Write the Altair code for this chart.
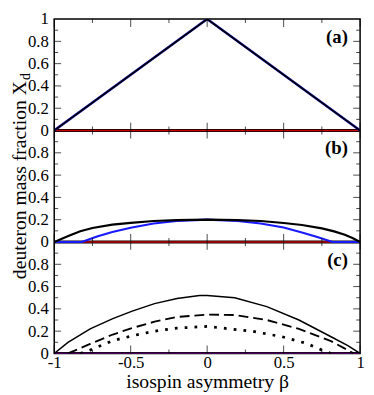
import altair as alt
import pandas as pd

# ---------------- data ----------------
# panel (a)
a_beta = [-1.0, 0.0, 1.0]
a_black = [0.0, 1.0, 0.0]

# panel (b)
b_beta = [-1.0, -0.95, -0.9, -0.83, -0.75, -0.62, -0.5, -0.35, -0.2, 0.0,
          0.2, 0.35, 0.5, 0.62, 0.75, 0.83, 0.9, 0.95, 1.0]
b_black = [0.0, 0.03, 0.058, 0.096, 0.126, 0.156, 0.172, 0.188, 0.196, 0.2,
           0.196, 0.188, 0.17, 0.152, 0.122, 0.095, 0.065, 0.035, 0.0]
b_blue_beta = [-1.0, -0.82, -0.72, -0.62, -0.5, -0.35, -0.2, 0.0,
               0.2, 0.35, 0.5, 0.62, 0.72, 0.82, 1.0]
b_blue = [0.0, 0.0, 0.049, 0.089, 0.128, 0.166, 0.188, 0.2,
          0.188, 0.166, 0.13, 0.085, 0.045, 0.0, 0.0]

# panel (c)
c_solid_beta = [-1.0, -0.91, -0.765, -0.617, -0.49, -0.344, -0.197, -0.05, 0.0,
                0.18, 0.39, 0.6, 0.81, 0.92, 1.0]
c_solid = [0.0, 0.1, 0.22, 0.313, 0.38, 0.447, 0.493, 0.519, 0.52,
           0.5, 0.42, 0.3, 0.15, 0.07, 0.0]
c_dash_beta = [-0.91, -0.765, -0.617, -0.49, -0.344, -0.197, 0.0,
               0.18, 0.39, 0.6, 0.81, 0.96]
c_dash = [0.0, 0.085, 0.17, 0.228, 0.285, 0.328, 0.348,
          0.345, 0.30, 0.22, 0.11, 0.0]
c_dot_beta = [-0.83, -0.765, -0.617, -0.49, -0.344, -0.197, 0.0,
              0.29, 0.49, 0.65, 0.75, 0.81]
c_dot = [0.0, 0.03, 0.115, 0.158, 0.2, 0.228, 0.242,
         0.2, 0.15, 0.09, 0.03, 0.0]

zero_beta = [-1.0, 1.0]
zero_val = [0.0, 0.0]

# panel stacking: (a) on top, (c) at the bottom
panel_names = ["a", "b", "c"]
panel_offset = {"a": 2, "b": 1, "c": 0}
panel_labels = {"a": "(a)", "b": "(b)", "c": "(c)"}

x_major = [-1.0, -0.5, 0.0, 0.5, 1.0]
x_minor = [-0.75, -0.25, 0.25, 0.75]
y_major = [0.2, 0.4, 0.6, 0.8]
y_minor = [0.1, 0.3, 0.5, 0.7, 0.9]
y_label_vals = [0, 0.2, 0.4, 0.6, 0.8]

W = 311
H = 340
FONT = "Liberation Serif"

xscale = alt.Scale(domain=[-1, 1], nice=False, zero=False)
yscale = alt.Scale(domain=[0, 3], nice=False, zero=False)

# all y-axis label positions (panel value + panel offset), plus the top "1"
y_axis_values = sorted({round(v + o, 3) for o in (0, 1, 2) for v in y_label_vals} | {3})

xaxis = alt.Axis(values=x_major, title="isospin asymmetry β",
                 labelExpr="'' + datum.value", titleY=35, titleBaseline="alphabetic")
yaxis = alt.Axis(values=y_axis_values, title=None,
                 labelExpr="datum.value > 2.999 ? '1' : format(datum.value % 1, '~g')")


def X(field="x"):
    return alt.X(field + ":Q", scale=xscale, axis=xaxis)


def Y(field="yy"):
    return alt.Y(field + ":Q", scale=yscale, axis=yaxis)


def curve(panel, beta, vals, color, width, dash=None):
    df = pd.DataFrame({"x": beta, "y": vals})
    kw = dict(color=color, strokeWidth=width, strokeCap="butt", clip=True)
    if dash:
        kw["strokeDash"] = dash
    return alt.Chart(df).transform_calculate(
        yy=f"datum.y + {panel_offset[panel]}"
    ).mark_line(**kw).encode(x=X(), y=Y())


layers = []

# internal panel frames
frame_df = pd.DataFrame({"yy": [1, 2]})
layers.append(alt.Chart(frame_df).mark_rule(color="black", strokeWidth=1.5).encode(y=Y()))

# curves
layers += [
    curve("a", zero_beta, zero_val, "black", 3),
    curve("a", zero_beta, zero_val, "#c80000", 1.6),
    curve("a", a_beta, a_black, "#1010a0", 2.6),
    curve("a", a_beta, a_black, "black", 1.5),
    curve("b", zero_beta, zero_val, "black", 3),
    curve("b", zero_beta, zero_val, "#c80000", 1.6),
    curve("b", b_blue_beta, b_blue, "#1a1aff", 2.2),
    curve("b", b_beta, b_black, "black", 2.2),
    curve("c", zero_beta, zero_val, "black", 3),
    curve("c", zero_beta, zero_val, "#8800a8", 1.6),
    curve("c", c_solid_beta, c_solid, "black", 1.5),
    curve("c", c_dash_beta, c_dash, "black", 1.9, [10, 5]),
    curve("c", c_dot_beta, c_dot, "black", 2.8, [2.8, 7.2]),
]

# inward x ticks at every panel edge
for vals, ln in ((x_major, 8), (x_minor, 4)):
    inner = pd.DataFrame([(x, b) for x in vals for b in (1, 2)], columns=["x", "yy"])
    layers.append(alt.Chart(inner).mark_tick(orient="vertical", size=2 * ln, thickness=1,
                                             color="black").encode(x=X(), y=Y()))
    bot = pd.DataFrame({"x": vals, "yy": [0] * len(vals)})
    layers.append(alt.Chart(bot).mark_tick(orient="vertical", size=ln, thickness=1,
                                           yOffset=-ln / 2, color="black").encode(x=X(), y=Y()))
    top = pd.DataFrame({"x": vals, "yy": [3] * len(vals)})
    layers.append(alt.Chart(top).mark_tick(orient="vertical", size=ln, thickness=1,
                                           yOffset=ln / 2, color="black").encode(x=X(), y=Y()))

# inward y ticks, left and right
for vals, ln in ((y_major, 7), (y_minor, 4)):
    df = pd.DataFrame({"yy": [round(v + o, 3) for o in (0, 1, 2) for v in vals]})
    layers.append(alt.Chart(df).mark_tick(orient="horizontal", size=ln, thickness=1,
                                          xOffset=ln / 2, color="black").encode(
        y=Y(), x=alt.value(0)))
    layers.append(alt.Chart(df).mark_tick(orient="horizontal", size=ln, thickness=1,
                                          xOffset=-ln / 2, color="black").encode(
        y=Y(), x=alt.value(W)))

# panel labels
lab_df = pd.DataFrame({
    "x": [0.92] * 3,
    "yy": [0.84 + panel_offset[p] for p in panel_names],
    "t": [panel_labels[p] for p in panel_names],
})
layers.append(alt.Chart(lab_df).mark_text(
    font=FONT, fontSize=19, fontWeight="bold", align="right", baseline="middle",
    color="black").encode(x=X(), y=Y(), text="t:N"))

# y-axis title with subscript d
ytitle = alt.Chart(pd.DataFrame({"t": ["deuteron mass fraction X"]})).mark_text(
    font=FONT, fontSize=20, angle=270, align="right", baseline="alphabetic", color="black"
).encode(text="t:N", x=alt.value(-29), y=alt.value(63))
ysub = alt.Chart(pd.DataFrame({"t": ["d"]})).mark_text(
    font=FONT, fontSize=14, angle=270, align="left", baseline="alphabetic", color="black"
).encode(text="t:N", x=alt.value(-25), y=alt.value(62))
layers += [ytitle, ysub]

chart = alt.layer(*layers).properties(
    width=W, height=H,
    autosize=alt.AutoSizeParams(type="none"),
    padding={"left": 47, "top": 8, "right": 6, "bottom": 39},
).configure_view(
    stroke="black", strokeWidth=1.5
).configure_axis(
    ticks=False, domain=False, grid=False, labelOverlap=False,
    labelFont=FONT, labelFontSize=17, labelColor="black", labelFlush=False,
    titleFont=FONT, titleFontSize=20, titleFontWeight="normal", titleColor="black",
).configure_axisX(
    labelPadding=1
).configure_axisY(
    labelPadding=6
)

chart.save("out.html", embed_options={"renderer": "svg", "actions": False})
